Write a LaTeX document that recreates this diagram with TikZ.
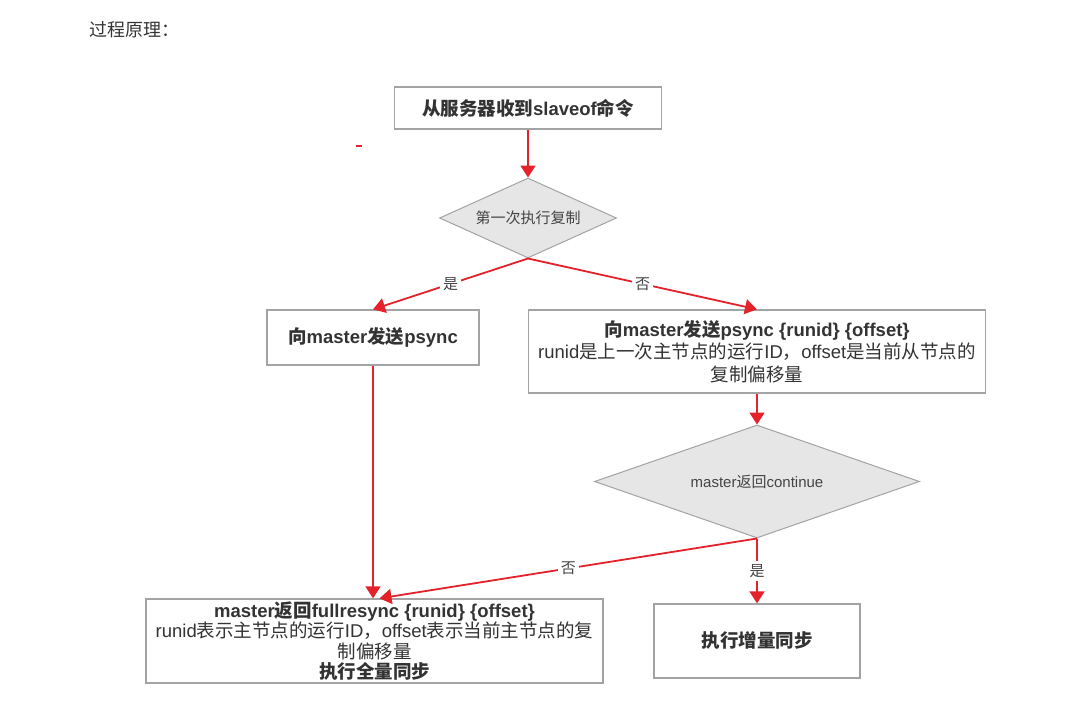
\documentclass[tikz,border=0pt]{standalone}
\usepackage{fontspec}
\setmainfont{Liberation Sans}
\newfontfamily\zh{Noto Sans CJK SC}
\usetikzlibrary{arrows.meta,shapes.geometric}
\definecolor{arrred}{HTML}{E3222B}
\definecolor{boxgray}{HTML}{A3A3A3}
\definecolor{txt}{HTML}{333333}
\definecolor{dtxt}{HTML}{444444}
\definecolor{dfill}{HTML}{E6E6E6}
\begin{document}
\begin{tikzpicture}[x=1pt,y=-1pt,
  box/.style={draw=boxgray, line width=1.3pt, fill=white, inner sep=0pt, align=center, text=txt},
  dec/.style={diamond, draw=boxgray, line width=1pt, fill=dfill, inner sep=0pt, text=dtxt, font=\fontsize{15}{17}\selectfont},
  arr/.style={draw=arrred, line width=1.8pt, -{Triangle[length=12pt,width=15pt]}},
  lab/.style={fill=white, inner sep=3pt, text=dtxt, font=\zh\fontsize{15}{17}\selectfont},
  ]
\useasboundingbox (0,0) rectangle (1086,717);
\node[anchor=west, text=txt, font=\zh\fontsize{18}{20}\selectfont] (title) at (86,30) {过程原理：};
\draw[arrred, line width=1.5pt] (356,146) -- (362,146);

\node[box, minimum width=267pt, minimum height=42pt, font=\bfseries\fontsize{18.5}{20}\selectfont] (start) at (528,108) {{\zh 从服务器收到}slaveof{\zh 命令}};
\node[dec, aspect=2.21, minimum width=177pt, minimum height=80pt] (d1) at (528,218) {\zh 第一次执行复制};
\node[box, minimum width=212pt, minimum height=55pt, font=\bfseries\fontsize{18.5}{20}\selectfont] (psync) at (373,337.5) {{\zh 向}master{\zh 发送}psync};
\node[box, minimum width=457pt, minimum height=83pt, font=\fontsize{18.5}{22.5}\selectfont] (psync2) at (757,351.5)
  {\textbf{{\zh 向}master{\zh 发送}psync \{runid\} \{offset\}}\\ runid{\zh 是上一次主节点的运行}ID{\zh ，}offset{\zh 是当前从节点的}\\{\zh 复制偏移量}};
\node[dec, aspect=2.88, minimum width=325pt, minimum height=113pt] (d2) at (757,481.5) {master{\zh 返回}continue};
\node[box, minimum width=457pt, minimum height=84pt, font=\fontsize{18.5}{20.5}\selectfont] (full) at (374.5,641)
  {\textbf{master{\zh 返回}fullresync \{runid\} \{offset\}}\\ runid{\zh 表示主节点的运行}ID{\zh ，}offset{\zh 表示当前主节点的复}\\{\zh 制偏移量}\\\textbf{\zh 执行全量同步}};
\node[box, minimum width=206pt, minimum height=74pt, font=\bfseries\fontsize{18.5}{20}\selectfont] (incr) at (757,641) {\zh 执行增量同步};

\draw[arr] (start.south) -- (d1.north);
\draw[arr] (d1.south) -- node[lab]{是} (psync.north);
\draw[arr] (d1.south) -- node[lab]{否} (psync2.north);
\draw[arr] (psync2.south) -- (d2.north);
\draw[arr] (psync.south) -- (psync.south |- full.north);
\draw[arr] (d2.south) -- node[lab]{否} ([xshift=5pt]full.north);
\draw[arr] (d2.south) -- node[lab]{是} (incr.north);
\end{tikzpicture}
\end{document}
